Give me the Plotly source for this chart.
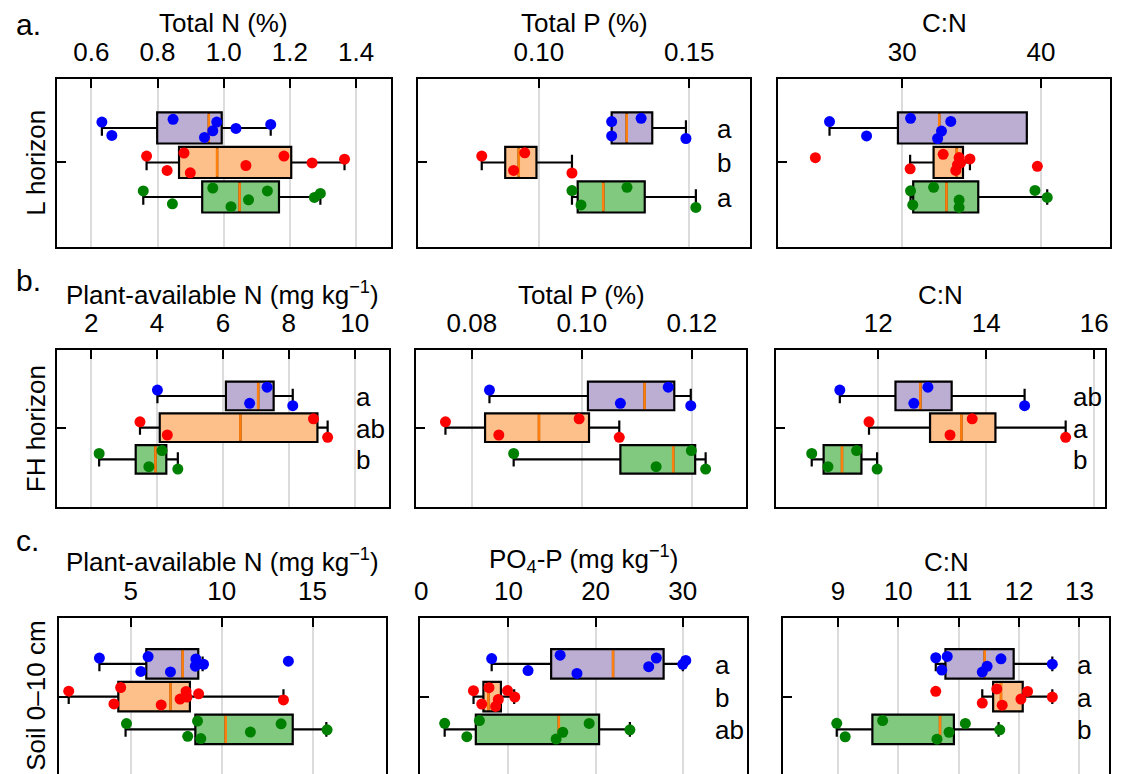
import plotly.graph_objects as go

W, H = 1121, 774
FONT = "Liberation Sans, Arial, sans-serif"

# ---------------- data ----------------
# group order: top (blue/purple), middle (red/orange), bottom (green)
GROUP_POS = [3, 2, 1]
BOX_FILL = ["#bcadd3", "#fdc08a", "#80c97f"]
DOT_COLOR = ["#0000ff", "#ff0000", "#008000"]
MEDIAN_COLOR = "#ff7f0e"

# a. L horizon
L_totN_pts = [[0.632, 0.662, 0.847, 0.942, 0.967, 0.979, 1.037, 1.142],
              [0.767, 0.829, 0.880, 0.899, 1.067, 1.182, 1.267, 1.365],
              [0.757, 0.845, 0.967, 1.022, 1.075, 1.132, 1.274, 1.292]]
L_totN_box = [[0.632, 0.799, 0.955, 0.994, 1.142],
              [0.767, 0.865, 0.980, 1.204, 1.365],
              [0.757, 0.935, 1.048, 1.167, 1.292]]
L_totP_pts = [[0.1242, 0.1242, 0.1340, 0.1489],
              [0.0810, 0.0916, 0.0953, 0.1110],
              [0.1110, 0.1140, 0.1293, 0.1522]]
L_totP_box = [[0.1242, 0.1242, 0.1292, 0.1377, 0.1489],
              [0.0810, 0.0888, 0.0933, 0.0992, 0.1110],
              [0.1110, 0.1129, 0.1214, 0.1352, 0.1522]]
L_CN_pts = [[24.76, 27.43, 30.60, 32.55, 32.83, 33.50],
            [23.74, 30.57, 32.95, 33.86, 33.98, 34.10, 34.20, 34.88, 39.74],
            [30.60, 30.76, 32.26, 34.10, 34.10, 39.57, 40.45]]
L_CN_box = [[24.76, 29.69, 32.67, 38.98, 38.98],
            [30.57, 32.26, 33.93, 34.38, 34.88],
            [30.60, 30.79, 33.19, 35.48, 40.45]]

# b. FH horizon
FH_N_pts = [[4.01, 6.81, 7.34, 8.12],
            [3.48, 4.31, 8.75, 9.18],
            [2.24, 3.75, 4.15, 4.63]]
FH_N_box = [[4.01, 6.09, 7.07, 7.54, 8.12],
            [3.48, 4.08, 6.53, 8.87, 9.18],
            [2.24, 3.35, 3.95, 4.28, 4.63]]
FH_totP_pts = [[0.0832, 0.1070, 0.1157, 0.1198],
               [0.0752, 0.0849, 0.0995, 0.1068],
               [0.0876, 0.1135, 0.1199, 0.1225]]
FH_totP_box = [[0.0832, 0.1011, 0.1114, 0.1168, 0.1198],
               [0.0752, 0.0824, 0.0922, 0.1013, 0.1068],
               [0.0876, 0.1070, 0.1166, 0.1206, 0.1225]]
FH_CN_pts = [[11.29, 12.66, 12.92, 14.71],
             [11.83, 13.33, 13.74, 15.47],
             [10.77, 11.07, 11.60, 11.98]]
FH_CN_box = [[11.29, 12.32, 12.78, 13.36, 14.71],
             [11.83, 12.96, 13.54, 14.17, 15.47],
             [10.77, 10.99, 11.33, 11.69, 11.98]]

# c. Soil 0-10 cm
S_N_pts = [[3.27, 5.55, 5.95, 7.18, 8.55, 8.58, 9.00, 13.67],
           [1.58, 4.07, 4.44, 6.67, 7.71, 8.04, 8.09, 8.73, 13.40],
           [4.76, 8.13, 8.67, 8.85, 11.58, 13.27, 15.80]]
S_N_box = [[3.27, 5.85, 7.85, 8.71, 8.95],
           [1.58, 4.31, 7.18, 8.25, 13.40],
           [4.71, 8.55, 10.22, 13.91, 15.76]]
S_P_pts = [[8.08, 12.25, 15.93, 17.86, 26.09, 26.96, 30.00, 30.34],
           [5.99, 6.94, 7.77, 8.53, 8.84, 9.90, 10.73],
           [2.69, 5.23, 6.67, 15.47, 16.23, 19.26, 23.93]]
S_P_box = [[8.08, 14.90, 22.00, 27.80, 30.00],
           [6.00, 7.13, 7.70, 9.14, 10.66],
           [2.69, 6.26, 15.78, 20.40, 23.93]]
S_CN_pts = [[10.62, 10.72, 10.81, 11.39, 11.47, 11.70, 12.55],
            [10.62, 11.39, 11.63, 11.72, 12.03, 12.14, 12.55],
            [8.98, 9.12, 9.74, 10.64, 10.84, 11.11, 11.68]]
S_CN_box = [[10.62, 10.78, 11.43, 11.91, 12.55],
            [11.39, 11.57, 11.70, 12.06, 12.55],
            [8.98, 9.57, 10.69, 10.92, 11.66]]

# axis titles, ticks, letters
TITLES = ["Total N (%)", "Total P (%)", "C:N",
          "Plant-available N (mg kg<sup>−1</sup>)", "Total P (%)", "C:N",
          "Plant-available N (mg kg<sup>−1</sup>)", "PO<sub>4</sub>-P (mg kg<sup>−1</sup>)", "C:N"]
TICKS = [[0.6, 0.8, 1.0, 1.2, 1.4], [0.10, 0.15], [30, 40],
         [2, 4, 6, 8, 10], [0.08, 0.10, 0.12], [12, 14, 16],
         [5, 10, 15], [0, 10, 20, 30], [9, 10, 11, 12, 13]]
TICK_LABELS = [["0.6", "0.8", "1.0", "1.2", "1.4"], ["0.10", "0.15"], ["30", "40"],
               ["2", "4", "6", "8", "10"], ["0.08", "0.10", "0.12"], ["12", "14", "16"],
               ["5", "10", "15"], ["0", "10", "20", "30"], ["9", "10", "11", "12", "13"]]
X_RANGES = [[0.495, 1.504], [0.0599, 0.1703], [21.05, 44.98],
            [0.946, 11.03], [0.0699, 0.1299], [10.11, 16.2],
            [1.02, 19.02], [-0.11, 37.4], [8.09, 13.49]]
LETTERS = [None, ["a", "b", "a"], None,
           ["a", "ab", "b"], None, ["ab", "a", "b"],
           None, ["a", "b", "ab"], ["a", "a", "b"]]
ROW_LABELS = ["L horizon", "FH horizon", "Soil 0–10 cm"]
PANEL_TAGS = ["a.", "b.", "c."]

POINTS = [L_totN_pts, L_totP_pts, L_CN_pts, FH_N_pts, FH_totP_pts, FH_CN_pts,
          S_N_pts, S_P_pts, S_CN_pts]
BOXES = [L_totN_box, L_totP_box, L_CN_box, FH_N_box, FH_totP_box, FH_CN_box,
         S_N_box, S_P_box, S_CN_box]

# ---------------- layout geometry (pixels) ----------------
PANEL_PX = [(51, 388, 79, 247), (416, 751, 79, 247), (779, 1114, 79, 247),
            (51, 386, 350, 507), (414, 747, 350, 507), (777, 1109, 350, 507),
            (53, 383, 618, 774), (418, 748, 618, 774), (784, 1113, 618, 774)]
ROW_YRANGE = [[-0.45, 4.42], [-0.5, 4.45], [-0.36, 4.40]]
TITLE_BASELINE = [33, 305, 572]
TAG_BASELINE = [35, 291, 551]
BOX_W = 0.9
FS = 26

fig = go.Figure()
layout = dict(width=W, height=H, margin=dict(l=0, r=0, t=0, b=0),
              paper_bgcolor="white", plot_bgcolor="white",
              showlegend=False, hovermode=False, boxmode="overlay",
              font=dict(family=FONT, size=FS, color="black"))
annotations = []

for i in range(9):
    row = i // 3
    xa = "x" if i == 0 else f"x{i+1}"
    ya = "y" if i == 0 else f"y{i+1}"
    xkey = "xaxis" if i == 0 else f"xaxis{i+1}"
    ykey = "yaxis" if i == 0 else f"yaxis{i+1}"
    x0, x1, y0, y1 = PANEL_PX[i]

    # boxes
    for g in range(3):
        lo, q1, med, q3, hi = BOXES[i][g]
        fig.add_trace(go.Box(
            y=[GROUP_POS[g]], q1=[q1], median=[med], q3=[q3],
            lowerfence=[lo], upperfence=[hi], orientation="h",
            fillcolor=BOX_FILL[g], line=dict(color="black", width=2.2),
            width=BOX_W, whiskerwidth=0.5, boxpoints=False,
            xaxis=xa, yaxis=ya))
    # medians
    for g in range(3):
        med = BOXES[i][g][2]
        fig.add_trace(go.Box(
            y=[GROUP_POS[g]], q1=[med], median=[med], q3=[med],
            lowerfence=[med], upperfence=[med], orientation="h",
            fillcolor="rgba(0,0,0,0)", line=dict(color=MEDIAN_COLOR, width=2.6),
            width=BOX_W - 0.07, whiskerwidth=0, boxpoints=False,
            xaxis=xa, yaxis=ya))
    # points (library jitter)
    for g in range(3):
        pts = POINTS[i][g]
        fig.add_trace(go.Box(
            x=pts, y=[GROUP_POS[g]] * len(pts), orientation="h",
            boxpoints="all", jitter=0.8, pointpos=0,
            fillcolor="rgba(0,0,0,0)", line=dict(color="rgba(0,0,0,0)", width=0),
            marker=dict(color=DOT_COLOR[g], size=11, line=dict(width=0)),
            width=BOX_W, xaxis=xa, yaxis=ya))

    layout[xkey] = dict(
        domain=[x0 / W, x1 / W], range=X_RANGES[i], anchor=ya, side="top",
        tickmode="array", tickvals=TICKS[i], ticktext=TICK_LABELS[i],
        ticks="inside", ticklen=9, tickwidth=2, tickcolor="black",
        showline=True, linecolor="black", linewidth=2, mirror=(row < 2),
        showgrid=True, gridcolor="#dcdcdc", gridwidth=1.5, zeroline=False,
        tickfont=dict(family=FONT, size=FS, color="black"),
        ticklabelstandoff=6, fixedrange=True)
    layout[ykey] = dict(
        domain=[1 - y1 / H, 1 - y0 / H], range=ROW_YRANGE[row], anchor=xa,
        tickmode="array", tickvals=[2],
        ticks="inside", ticklen=9, tickwidth=2, tickcolor="black",
        showline=True, linecolor="black", linewidth=2, mirror=True,
        showgrid=False, zeroline=False, showticklabels=False, fixedrange=True)

    # title above the tick labels
    annotations.append(dict(
        text=TITLES[i], xref="paper", yref="paper",
        x=(x0 + x1) / 2 / W, y=1 - (TITLE_BASELINE[row] + 7) / H,
        xanchor="center", yanchor="bottom", showarrow=False,
        font=dict(family=FONT, size=FS, color="black")))
    # significance letters
    if LETTERS[i]:
        for g in range(3):
            annotations.append(dict(
                text=LETTERS[i][g], xref=f"{xa} domain", yref=ya,
                x=0.895, y=GROUP_POS[g], xanchor="left", yanchor="middle",
                showarrow=False, yshift=-1,
                font=dict(family=FONT, size=FS, color="black")))

for r in range(3):
    x0, x1, y0, y1 = PANEL_PX[3 * r]
    annotations.append(dict(
        text=ROW_LABELS[r], xref="paper", yref="paper",
        x=30 / W, y=1 - (y0 + y1) / 2 / H, textangle=-90,
        xanchor="center", yanchor="middle", showarrow=False,
        font=dict(family=FONT, size=FS, color="black")))
    annotations.append(dict(
        text=PANEL_TAGS[r], xref="paper", yref="paper",
        x=8 / W, y=1 - (TAG_BASELINE[r] + 8) / H,
        xanchor="left", yanchor="bottom", showarrow=False,
        font=dict(family=FONT, size=30, color="black")))

layout["annotations"] = annotations
fig.update_layout(**layout)
fig.write_html("out.html")
